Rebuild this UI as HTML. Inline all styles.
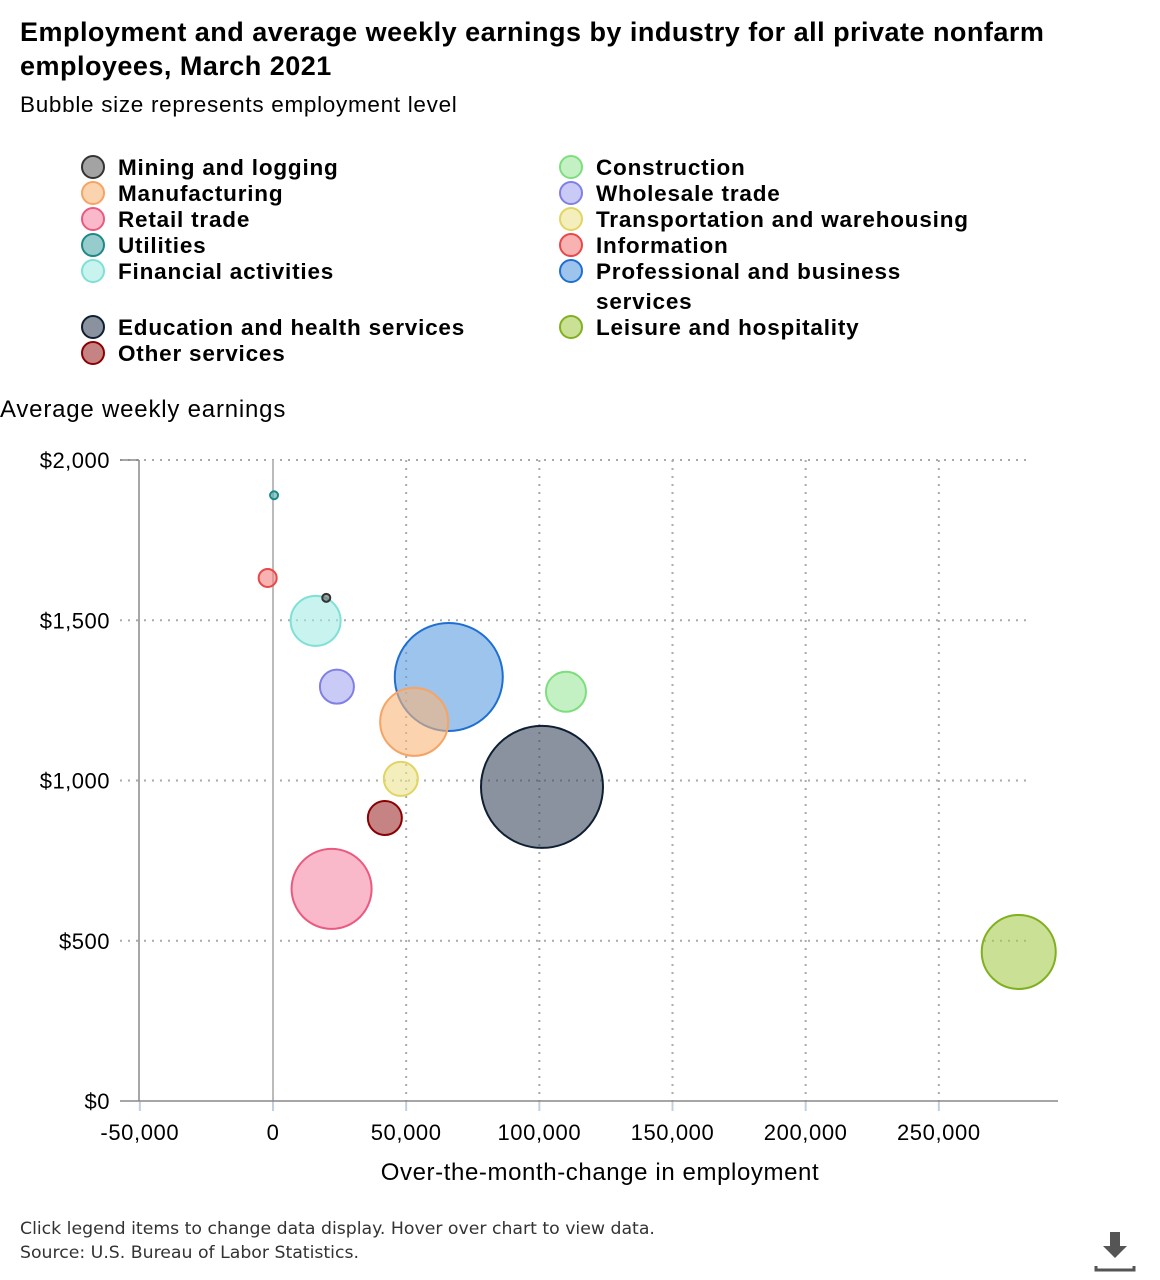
<!DOCTYPE html>
<html><head><meta charset="utf-8"><style>
body{margin:0;width:1160px;height:1280px;background:#fff;font-family:"Liberation Sans",sans-serif;color:#000;position:relative;overflow:hidden}
.t{position:absolute;white-space:nowrap}
</style></head><body>
<div class="t" style="left:20px;top:15px;font-size:27px;letter-spacing:0.48px;font-weight:bold;line-height:34px">Employment and average weekly earnings by industry for all private nonfarm<br>employees, March 2021</div>
<div class="t" style="left:20px;top:92px;font-size:22.5px;letter-spacing:0.7px">Bubble size represents employment level</div>
<div class="t" style="left:0;top:396px;font-size:24px;letter-spacing:0.8px">Average weekly earnings</div>
<div class="t" style="left:20px;top:1217px;font-size:17.3px;line-height:24px;font-family:'DejaVu Sans',sans-serif;color:#333">Click legend items to change data display. Hover over chart to view data.<br>Source: U.S. Bureau of Labor Statistics.</div>
<svg style="position:absolute;left:1094px;top:1230px" width="44" height="44"><path d="M16 2h10v14h7l-12 12-12-12h7z" fill="#555"/><path d="M2 36v4h38v-4" fill="none" stroke="#555" stroke-width="3"/></svg>
<svg id="c" width="1160" height="1280" style="position:absolute;left:0;top:0"></svg>
<script>
const names=["Mining and logging","Construction","Manufacturing","Wholesale trade","Retail trade","Transportation and warehousing","Utilities","Information","Financial activities","Professional and business services","Education and health services","Leisure and hospitality","Other services"];
const change=[20000,110000,53000,24000,22000,48000,400,-2000,16000,66000,101000,280000,42000];
const earnings=[1570,1277,1183,1293,662,1005,1890,1632,1498,1323,980,465,883];
const employment=[100,2500,7225,1806,10000,1806,100,506,3906,18225,23256,8556,1806];
const fills=["#666","#9be89b","#f9b57a","#a6a6f0","#f68ba6","#ece38f","#50aaaa","#f37f7f","#a3ebe4","#5c9ce0","#3b4a5e","#a6cc4c","#a03030"];
const strokes=["#333","#7ede7e","#f5a464","#7f7fe6","#ea5a7f","#e0d565","#1e8888","#e84848","#7fe0d6","#1f6fd0","#0f1f33","#80b020","#8b0000"];
const xTicks=[-50000,0,50000,100000,150000,200000,250000];
const xLabels=["-50,000","0","50,000","100,000","150,000","200,000","250,000"];
const yTicks=[0,500,1000,1500,2000];
const yLabels=["$0","$500","$1,000","$1,500","$2,000"];
const X=v=>273+v*(799/300000), Y=v=>1101-v*(641/2000), R=e=>Math.sqrt(e)*0.4;
const svg=document.getElementById('c'),NS="http://www.w3.org/2000/svg";
function mk(t,a,p){const e=document.createElementNS(NS,t);for(const k in a)e.setAttribute(k,a[k]);(p||svg).appendChild(e);return e;}
yTicks.forEach((v,i)=>{
 if(v>0){const g=mk('line',{x1:120,x2:1028,y1:Y(v),y2:Y(v),stroke:'#aaa','stroke-dasharray':'2,6','stroke-width':2});
 }
 const t=mk('text',{x:110,y:Y(v)+8,'text-anchor':'end','font-size':22,'letter-spacing':0.5});t.textContent=yLabels[i];
 
});
xTicks.forEach((v,i)=>{
 if(v!==0&&v!==-50000){const g=mk('line',{x1:X(v),x2:X(v),y1:460,y2:1101,stroke:'#aaa','stroke-dasharray':'2,6','stroke-width':2});
 }
 const tk=mk('line',{x1:X(v),x2:X(v),y1:1101,y2:1111,stroke:'#c0d0e0','stroke-width':2});
 
 const t=mk('text',{x:X(v),y:1140,'text-anchor':'middle','font-size':22,'letter-spacing':0.6});t.textContent=xLabels[i];
 
});
let l=mk('line',{x1:X(0),x2:X(0),y1:460,y2:1101,stroke:'#bbb','stroke-width':2});

l=mk('line',{x1:139,x2:139,y1:460,y2:1101,stroke:'#888','stroke-width':1.5});

l=mk('line',{x1:120,x2:1058,y1:1101,y2:1101,stroke:'#888','stroke-width':1.5});

l=mk('line',{x1:120,x2:139,y1:460,y2:460,stroke:'#888','stroke-width':1.5});

let xt=mk('text',{x:600,y:1180,'text-anchor':'middle','font-size':24,'letter-spacing':0.6});xt.textContent='Over-the-month-change in employment';

const order=names.map((n,i)=>i).sort((a,b)=>employment[b]-employment[a]);
order.forEach(i=>{
 const c=mk('circle',{cx:X(change[i]),cy:Y(earnings[i]),r:R(employment[i]),fill:fills[i],'fill-opacity':0.6,stroke:strokes[i],'stroke-width':2});
 
 
});
const legRows=[167,193,219,245,271,327,353];
names.forEach((nm,k)=>{
 const col=k%2,row=Math.floor(k/2);
 const x=col?571:93,y=legRows[row];
 const g=mk('g',{});
 
 
 mk('circle',{cx:x,cy:y,r:11,fill:fills[k],'fill-opacity':0.6,stroke:strokes[k],'stroke-width':2},g);
 const t=mk('text',{x:x+25,y:y+8,'font-size':22.5,'font-weight':'bold','letter-spacing':0.8},g);
 if(k===9){t.textContent='Professional and business';const t2=mk('text',{x:x+25,y:y+38,'font-size':22.5,'font-weight':'bold','letter-spacing':0.8},g);t2.textContent='services';}
 else t.textContent=nm;
});
</script>
</body></html>
